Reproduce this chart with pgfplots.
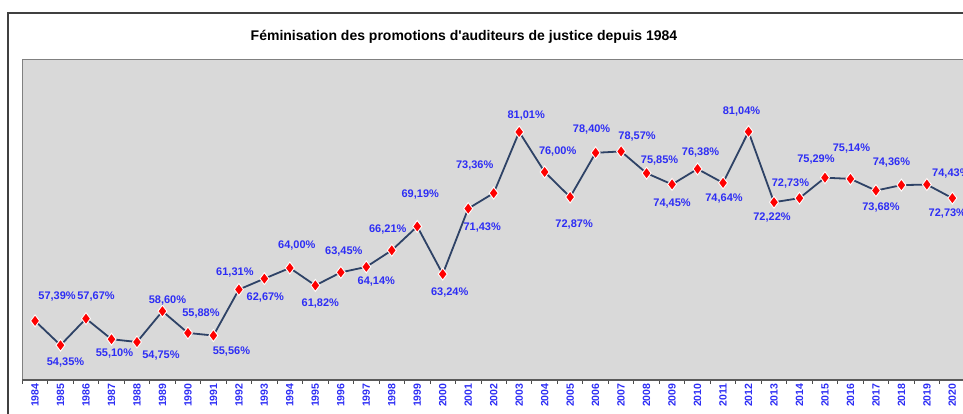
\documentclass[border=0pt]{standalone}
\usepackage{fontspec}
\setmainfont{Liberation Sans}
\usepackage{pgfplots}
\usepackage{pgfplotstable}
\pgfplotsset{compat=1.18}
\definecolor{bgray}{RGB}{217,217,217}
\definecolor{lblue}{RGB}{45,45,245}
\definecolor{lnavy}{RGB}{46,66,102}
\definecolor{framegray}{RGB}{128,128,128}
\pgfplotstableread{
x y dx ly lab
1984 57.39 22 24 57,39
1985 54.35 5 -17 54,35
1986 57.67 10 22 57,67
1987 55.10 3 -14 55,10
1988 54.75 24 -14 54,75
1989 58.60 5 11 58,60
1990 55.88 13 19 55,88
1991 55.56 18 -16 55,56
1992 61.31 -4 17 61,31
1993 62.67 1 -19 62,67
1994 64.00 7 22 64,00
1995 61.82 5 -18 61,82
1996 63.45 3 21 63,45
1997 64.14 10 -15 64,14
1998 66.21 -4 21 66,21
1999 69.19 3 32 69,19
2000 63.24 7 -18 63,24
2001 71.43 14 -19 71,43
2002 73.36 -19 28 73,36
2003 81.01 7 16 81,01
2004 76.00 13 20 76,00
2005 72.87 4 -27 72,87
2006 78.40 -4 23 78,40
2007 78.57 16 15 78,57
2008 75.85 13 13 75,85
2009 74.45 0 -19 74,45
2010 76.38 3 16 76,38
2011 74.64 1 -16 74,64
2012 81.04 -7 20 81,04
2013 72.22 -2 -15 72,22
2014 72.73 -9 15 72,73
2015 75.29 -9 18 75,29
2016 75.14 1 30 75,14
2017 73.68 5 -17 73,68
2018 74.36 -10 23 74,36
2019 74.43 24 11 74,43
2020 72.73 -5 -15 72,73
}\datatable
\begin{document}
\begin{tikzpicture}
\begin{axis}[
  name=ax,
  at={(0pt,0pt)}, anchor=south west,
  scale only axis,
  width=942.8pt, height=320pt,
  xmin=1983.5, xmax=2020.5,
  ymin=50, ymax=90,
  axis background/.style={fill=bgray},
  axis line style={draw=framegray, line width=1pt},
  ytick=\empty,
  xtick=data,
  xtick pos=bottom,
  xticklabels={1984,1985,1986,1987,1988,1989,1990,1991,1992,1993,1994,1995,1996,1997,1998,1999,2000,2001,2002,2003,2004,2005,2006,2007,2008,2009,2010,2011,2012,2013,2014,2015,2016,2017,2018,2019,2020},
  xticklabel style={rotate=90, anchor=east, font=\bfseries\fontsize{10.5}{10.5}\selectfont, text=lblue},
  minor xtick={1983.5,1984.5,...,2020.5},
  tick align=outside,
  major tick length=0pt,
  minor tick length=4pt,
  minor tick style={draw=black!70, line width=0.8pt},
  clip=false,
]
\draw[draw=black!65, line width=1.2pt] (axis cs:1983.5,50) -- (axis cs:2020.5,50);
\addplot[color=lnavy, line width=1.8pt, mark=diamond*,
  mark options={fill=red, draw=white, line width=0.9pt, solid},
  mark size=6pt,
  point meta=explicit symbolic,
  visualization depends on={\thisrow{dx}\as\dx},
  visualization depends on={\thisrow{ly}\as\ly},
  nodes near coords={\pgfplotspointmeta\%},
  nodes near coords style={anchor=center, xshift=\dx pt, yshift=\ly pt,
    font=\bfseries\fontsize{11}{11}\selectfont, text=lblue, inner sep=0pt},
] table[x=x, y=y, meta=lab] {\datatable};
\end{axis}
\draw[draw=black!75, line width=1.3pt] (-14.3pt,-60pt) -- (-14.3pt,367pt) -- (1000pt,367pt);
\node[font=\bfseries\fontsize{14}{14}\selectfont] at (441.7pt,343pt) {Féminisation des promotions d\textquotesingle auditeurs de justice depuis 1984};
\pgfresetboundingbox
\path (-22.3pt,-34pt) rectangle (940.7pt,380pt);
\end{tikzpicture}
\end{document}
